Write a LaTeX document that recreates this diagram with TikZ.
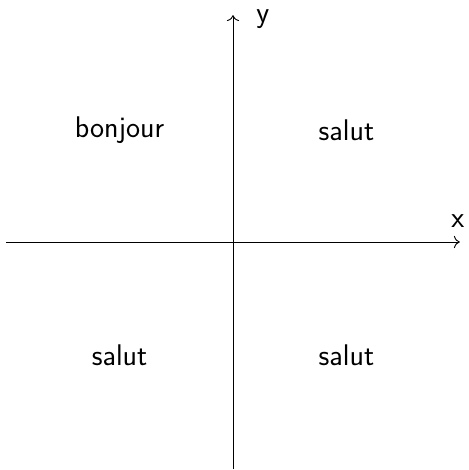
\documentclass[tikz,border=0pt]{standalone}
\usepackage{tikz}
\usetikzlibrary{arrows.meta,positioning,calc}
\tikzstyle{axis} = [line width=0.7pt,-{To[scale=1.4]}]
\tikzstyle{word} = [font=\sffamily\fontsize{22.5}{27}\selectfont, text centered]
\tikzstyle{axislabel} = [font=\sffamily\fontsize{22.5}{27}\selectfont, inner sep=0pt]

\begin{document}
\begin{tikzpicture}
\useasboundingbox (-6.164,-6.032) rectangle (6.218,6.402);
\coordinate (xmin) at (-6,0);
\coordinate (xmax) at (6,0);
\coordinate (ymin) at (0,-6);
\coordinate (ymax) at (0,6);
\draw [axis] (xmin) -- (xmax);
\draw [axis] (ymin) -- (ymax);
\node (X) [axislabel] at (5.95,0.56) {x};
\node (Y) [axislabel] at (0.79,5.9) {y};
\node (Q2) [word] at (-3,2.95) {bonjour};
\node (Q1) [word] at (3,2.95) {salut};
\node (Q3) [word] at (-3,-3) {salut};
\node (Q4) [word] at (3,-3) {salut};
\end{tikzpicture}
\end{document}
